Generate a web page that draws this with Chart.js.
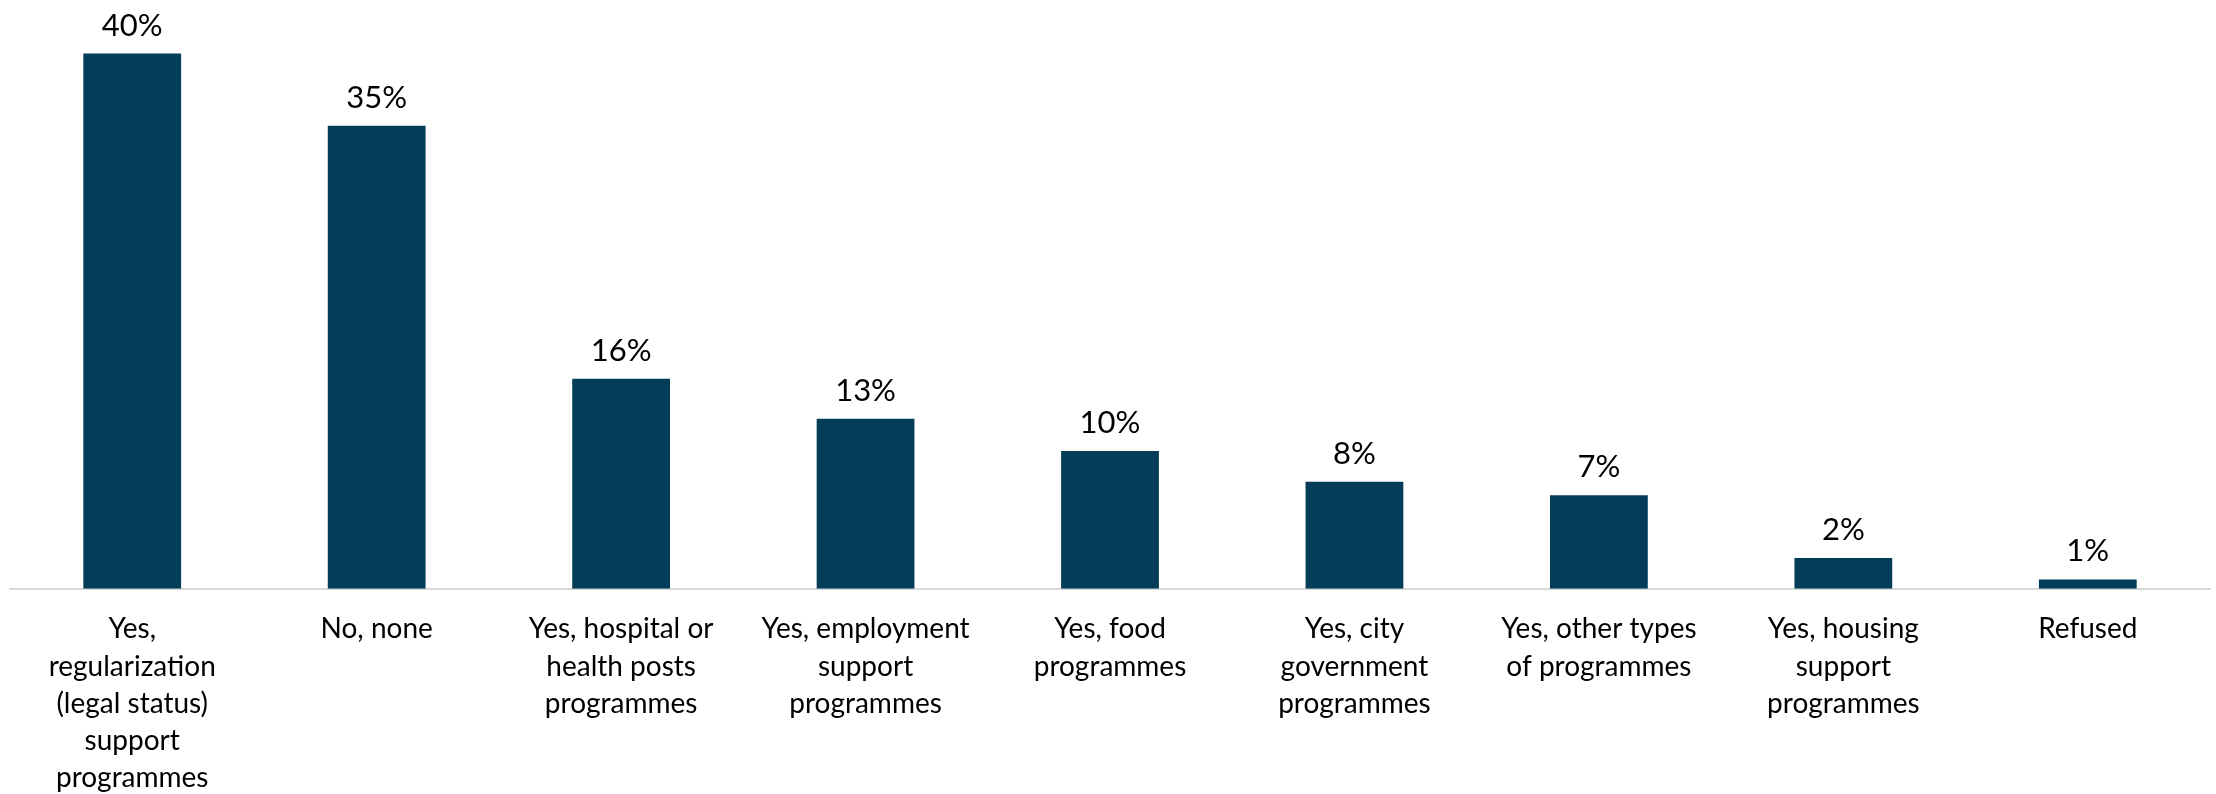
<!DOCTYPE html>
<html>
<head>
<meta charset="utf-8">
<script src="https://cdn.jsdelivr.net/npm/chart.js@4.4.1/dist/chart.umd.min.js"></script>
<style>
  html, body { margin: 0; padding: 0; background: #fff; }
  #wrap { width: 2216px; height: 794px; }
</style>
</head>
<body>
<div id="wrap"><canvas id="supportChart"></canvas></div>
<script>
(function () {
  if (typeof Chart === 'undefined') return;

  const categories = [
    ['Yes,', 'regularization', '(legal status)', 'support', 'programmes'],
    'No, none',
    ['Yes, hospital or', 'health posts', 'programmes'],
    ['Yes, employment', 'support', 'programmes'],
    ['Yes, food', 'programmes'],
    ['Yes, city', 'government', 'programmes'],
    ['Yes, other types', 'of programmes'],
    ['Yes, housing', 'support', 'programmes'],
    'Refused',
  ];
  const shares = [40.0, 34.6, 15.7, 12.7, 10.3, 8.0, 7.0, 2.3, 0.7];

  const barColor = '#033d58';
  const fontFamily = 'Lato, "Noto Sans", sans-serif';

  // value labels above each bar
  const valueLabels = {
    id: 'valueLabels',
    afterDatasetsDraw(chart) {
      const ctx = chart.ctx;
      const meta = chart.getDatasetMeta(0);
      ctx.save();
      ctx.font = '31px ' + fontFamily;
      ctx.fillStyle = '#000';
      ctx.textAlign = 'center';
      ctx.textBaseline = 'alphabetic';
      meta.data.forEach(function (bar, i) {
        ctx.fillText(Math.round(shares[i]) + '%', bar.x, bar.y - 18);
      });
      ctx.restore();
    },
  };

  const canvas = document.getElementById('supportChart');
  new Chart(canvas, {
    type: 'bar',
    data: {
      labels: categories,
      datasets: [{
        data: shares,
        backgroundColor: barColor,
        borderWidth: 0,
        categoryPercentage: 1,
        barPercentage: 0.4,
      }],
    },
    options: {
      responsive: true,
      maintainAspectRatio: false,
      animation: false,
      layout: { padding: { left: 10, right: 6, top: 0, bottom: -17 } },
      plugins: {
        legend: { display: false },
        tooltip: { enabled: false },
      },
      scales: {
        x: {
          grid: { display: false },
          border: { display: true, color: '#d9d9d9', width: 2 },
          ticks: {
            color: '#000',
            font: { family: fontFamily, size: 28, lineHeight: 1.33 },
            padding: 14,
            autoSkip: false,
            maxRotation: 0,
          },
        },
        y: {
          display: false,
          min: 0,
          max: 44,
        },
      },
    },
    plugins: [valueLabels],
  });
})();
</script>
</body>
</html>
